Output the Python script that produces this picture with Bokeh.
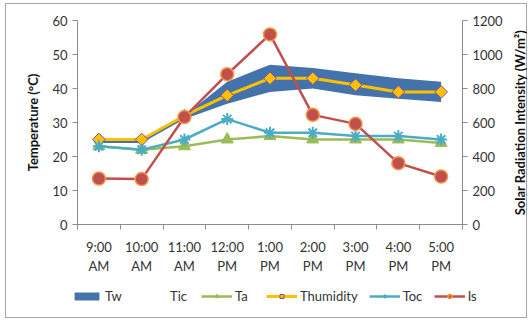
import numpy as np
from bokeh.plotting import figure
from bokeh.layouts import column, row
from bokeh.core.properties import value
from bokeh.models import (Range1d, LinearAxis, FixedTicker, Legend, LegendItem)
from bokeh.embed import file_html
from bokeh.resources import INLINE

# Hourly readings
times = ["9:00\nAM", "10:00\nAM", "11:00\nAM", "12:00\nPM", "1:00\nPM",
         "2:00\nPM", "3:00\nPM", "4:00\nPM", "5:00\nPM"]
tic = [24, 24, 31, 35.5, 39, 40, 38, 37, 36]          # lower edge of the band (°C)
tw = [25, 25, 32, 42, 47, 46, 44.5, 43, 42]           # upper edge of the band (°C)
ta = [23, 22, 23, 25, 26, 25, 25, 25, 24]
thumidity = [25, 25, 32, 38, 43, 43, 41, 39, 39]
toc = [23, 22, 25, 31, 27, 27, 26, 26, 25]
solar = [270, 267, 632, 884, 1118, 645, 592, 361, 282]  # W/m²

x = np.arange(len(times)) + 0.5

FONT = "Lato"
TXT = "#333333"
AXIS = "#8c8c8c"
W_MAIN = 509

# series styles, shared by the chart and the legend strip
BAND = dict(fill_color="#4472AA")
TA_L = dict(line_color="#9BBB59", line_width=2.5)
TA_S = dict(marker="triangle", size=12, fill_color="#9BBB59", line_color="#9BBB59")
TH_L = dict(line_color="#FFC000", line_width=3)
TH_S = dict(marker="square", angle=np.pi / 4, size=9, fill_color="#FFC000",
            line_color="#7A4FA0", line_width=1)
TOC_L = dict(line_color="#4BACC6", line_width=2.5)
TOC_S = dict(marker="asterisk", size=12, line_color="#4BACC6", line_width=2)
IS_L = dict(line_color="#C0504D", line_width=2.5)
IS_S = dict(marker="circle", size=13, fill_color="#C0504D", line_color="#F79646",
            line_width=1.5)

p = figure(width=W_MAIN, height=280, output_backend="svg", toolbar_location=None,
           x_range=Range1d(0, len(times)), y_range=Range1d(0, 60),
           min_border_left=77, min_border_top=20, min_border_right=W_MAIN - 462,
           min_border_bottom=56)
p.frame_align = False
p.border_fill_alpha = 0
p.outline_line_color = None
p.xgrid.visible = False
p.ygrid.visible = False
p.background_fill_color = "white"

p.extra_y_ranges = {"is": Range1d(0, 1200)}

# Band between the two temperature edges
p.varea(x=x, y1=tic, y2=tw, **BAND)
p.line(x, ta, **TA_L)
p.scatter(x, ta, **TA_S)
p.line(x, thumidity, **TH_L)
p.scatter(x, thumidity, **TH_S)
p.line(x, toc, **TOC_L)
p.scatter(x, toc, **TOC_S)
p.line(x, solar, y_range_name="is", **IS_L)
p.scatter(x, solar, y_range_name="is", **IS_S)

# Axes
xa = p.xaxis[0]
xa.ticker = FixedTicker(ticks=list(x), minor_ticks=list(range(len(times) + 1)))
xa.major_label_overrides = {float(v): t for v, t in zip(x, times)}
xa.major_tick_line_color = None
xa.minor_tick_in = 0
xa.minor_tick_out = 5
xa.minor_tick_line_color = AXIS
xa.axis_line_color = AXIS
xa.major_label_text_font = FONT
xa.major_label_text_font_size = "13px"
xa.major_label_text_color = TXT
xa.major_label_standoff = 8

ya = p.yaxis[0]
ya.ticker = FixedTicker(ticks=[0, 10, 20, 30, 40, 50, 60])
ya.minor_tick_line_color = None
ya.major_tick_in = 0
ya.major_tick_out = 5
ya.major_tick_line_color = AXIS
ya.axis_line_color = AXIS
ya.major_label_text_font = FONT
ya.major_label_text_font_size = "13px"
ya.major_label_text_color = TXT
ya.axis_label = "Temperature (°C)"
ya.axis_label_text_font = FONT
ya.axis_label_text_font_size = "13px"
ya.axis_label_text_font_style = "bold"
ya.axis_label_text_color = "#111111"
ya.axis_label_standoff = 8

ra = LinearAxis(y_range_name="is",
                ticker=FixedTicker(ticks=[0, 200, 400, 600, 800, 1000, 1200]))
ra.minor_tick_line_color = None
ra.major_tick_in = 0
ra.major_tick_out = 5
ra.major_tick_line_color = AXIS
ra.axis_line_color = AXIS
ra.major_label_text_font = FONT
ra.major_label_text_font_size = "13px"
ra.major_label_text_color = TXT
p.add_layout(ra, "right")

# Right-hand axis title, read from bottom to top
side = figure(width=529 - W_MAIN, height=322, output_backend="svg",
              toolbar_location=None, x_range=Range1d(0, 1),
              y_range=Range1d(322, 0), min_border=0,
              x_axis_type=None, y_axis_type=None)
side.frame_align = False
side.border_fill_alpha = 0
side.background_fill_alpha = 0
side.outline_line_color = None
side.xgrid.visible = False
side.ygrid.visible = False
side.text(x=[0.5], y=[122], text=["Solar Radiation Intensity (W/m²)"],
          angle=np.pi / 2, text_align="center", text_baseline="middle",
          text_font=value(FONT), text_font_size="13px",
          text_font_style="bold", text_color="#111111")

# Legend strip underneath the chart (key glyphs sit outside its visible range)
lg = figure(width=W_MAIN, height=42, output_backend="svg", toolbar_location=None,
            x_range=Range1d(-2, -1), y_range=Range1d(-2, -1),
            min_border=0, x_axis_type=None, y_axis_type=None)
lg.frame_align = False
lg.border_fill_alpha = 0
lg.background_fill_alpha = 0
lg.outline_line_color = None
lg.xgrid.visible = False
lg.ygrid.visible = False

k_tw = lg.varea(x=x, y1=tic, y2=tw, **BAND)
k_tic = lg.line(x, tic, line_alpha=0)
k_ta = [lg.line(x, ta, **TA_L), lg.scatter(x, ta, **TA_S)]
k_th = [lg.line(x, thumidity, **TH_L), lg.scatter(x, thumidity, **TH_S)]
k_toc = [lg.line(x, toc, **TOC_L), lg.scatter(x, toc, **TOC_S)]
k_is = [lg.line(x, solar, **IS_L), lg.scatter(x, solar, **IS_S)]

legend = Legend(items=[
    LegendItem(label="Tw", renderers=[k_tw]),
    LegendItem(label="Tic", renderers=[k_tic]),
    LegendItem(label="Ta", renderers=k_ta),
    LegendItem(label="Thumidity", renderers=k_th),
    LegendItem(label="Toc", renderers=k_toc),
    LegendItem(label="Is", renderers=k_is),
], orientation="horizontal", location=(71, 18))
legend.glyph_width = 31
legend.glyph_height = 10
legend.label_standoff = 3
legend.spacing = 11
legend.padding = 0
legend.margin = 0
legend.border_line_color = None
legend.background_fill_alpha = 0
legend.label_text_font = FONT
legend.label_text_font_size = "13px"
legend.label_text_color = TXT
lg.add_layout(legend)

# thin grey frame around the whole chart, painted behind transparent canvases
g = "linear-gradient(#a6a6a6,#a6a6a6)"
page = row(column(p, lg, spacing=0), side, spacing=0, styles={"background": (
    f"{g} 5px 3px / 522px 1px no-repeat, "
    f"{g} 5px 317px / 522px 1px no-repeat, "
    f"{g} 5px 3px / 1px 315px no-repeat, "
    f"{g} 526px 3px / 1px 315px no-repeat, white")})

open("out.html", "w").write(file_html(page, INLINE))
